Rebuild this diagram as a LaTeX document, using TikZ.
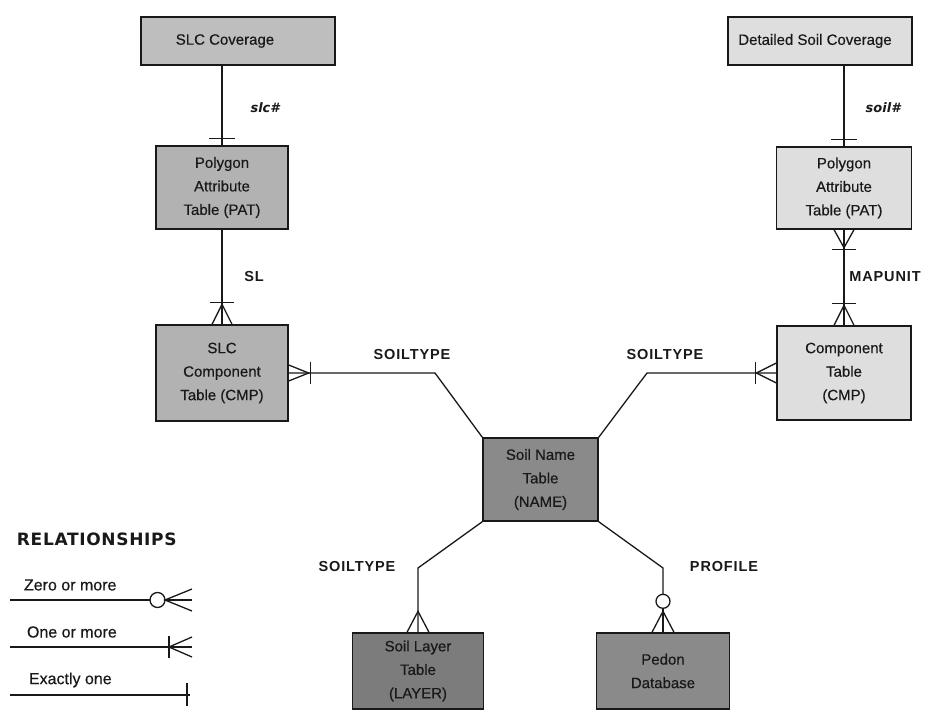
\documentclass[tikz,border=0pt]{standalone}
\usepackage{fontspec}
\setmainfont{Liberation Sans}
\newfontfamily\dvsans{DejaVu Sans}
\usetikzlibrary{calc}
\definecolor{gA}{RGB}{190,190,190}
\definecolor{gB}{RGB}{178,178,178}
\definecolor{gL}{RGB}{222,222,222}
\definecolor{gN}{RGB}{138,138,138}
\definecolor{gD}{RGB}{124,124,124}
\definecolor{ink}{RGB}{25,25,25}
\begin{document}
\begin{tikzpicture}[x=1pt,y=-1pt,line width=1.3pt,draw=ink,
  box/.style={draw=ink,line width=1.4pt,align=center,inner sep=0pt,
    font=\fontsize{15}{23.5}\selectfont\addfontfeature{FakeBold=0.4},text=ink},
  rel/.style={font=\fontsize{14.5}{16}\selectfont\bfseries\addfontfeature{LetterSpace=6},text=ink},
  key/.style={font=\dvsans\fontsize{13}{15}\selectfont\bfseries\itshape,text=ink},
  leg/.style={font=\fontsize{16}{18}\selectfont\addfontfeature{FakeBold=0.4},text=ink,anchor=west}]
\useasboundingbox (0,0) rectangle (950,711);
% boxes
\node[box,fill=gA,minimum width=194pt,minimum height=48pt] (slccov) at (238,41) {SLC Coverage\hspace*{26pt}};
\node[box,fill=gL,minimum width=184pt,minimum height=48pt] (detcov) at (820,41) {Detailed Soil Coverage\hspace*{10pt}};
\node[box,fill=gB,minimum width=132pt,minimum height=83pt] (pat1) at (222,187.5) {Polygon\\Attribute\\Table (PAT)};
\node[box,fill=gL,minimum width=135pt,minimum height=82pt] (pat2) at (844,188) {Polygon\\Attribute\\Table (PAT)};
\node[box,fill=gB,minimum width=132pt,minimum height=96pt] (cmp1) at (222,373) {SLC\\Component\\Table (CMP)};
\node[box,fill=gL,minimum width=134pt,minimum height=94pt] (cmp2) at (844,373) {Component\\Table\\(CMP)};
\node[box,fill=gN,minimum width=115pt,minimum height=83pt] (name) at (540.5,479.5) {Soil Name\\Table\\(NAME)};
\node[box,fill=gD,minimum width=131pt,minimum height=76pt] (layer) at (418,671) {Soil Layer\\Table\\(LAYER)};
\node[box,fill=gN,minimum width=133pt,minimum height=76pt] (pedon) at (663,671) {Pedon\\Database};
% labels
\node[key] (l1) at (265,108) {slc\#};
\node[key] (l2) at (883,108) {soil\#};
\node[rel] (l3) at (254,277) {SL};
\node[rel] (l4) at (885,277) {MAPUNIT};
\node[rel] (l5) at (412,355) {SOILTYPE};
\node[rel] (l6) at (665,355) {SOILTYPE};
\node[rel] (l7) at (357,567) {SOILTYPE};
\node[rel] (l8) at (724,567) {PROFILE};
% SLC coverage -> PAT
\draw (pat1.north |- slccov.south) -- (pat1.north);
\draw ($(pat1.north)+(-13,-7)$) -- ($(pat1.north)+(13,-7)$);
% PAT -> CMP (left)
\draw (pat1.south) -- (cmp1.north);
\draw ($(cmp1.north)+(-12,-22)$) -- ($(cmp1.north)+(12,-22)$);
\draw ($(cmp1.north)+(-10,0)$) -- ($(cmp1.north)+(0,-20)$) -- ($(cmp1.north)+(10,0)$);
% detailed coverage -> PAT
\draw (pat2.north |- detcov.south) -- (pat2.north);
\draw ($(pat2.north)+(-13,-7)$) -- ($(pat2.north)+(13,-7)$);
% PAT -> CMP (right)
\draw (pat2.south) -- (cmp2.north);
\draw ($(pat2.south)+(-10,0)$) -- ($(pat2.south)+(0,18)$) -- ($(pat2.south)+(10,0)$);
\draw ($(pat2.south)+(-12,20)$) -- ($(pat2.south)+(12,20)$);
\draw ($(cmp2.north)+(-12,-22)$) -- ($(cmp2.north)+(12,-22)$);
\draw ($(cmp2.north)+(-10,0)$) -- ($(cmp2.north)+(0,-20)$) -- ($(cmp2.north)+(10,0)$);
% CMP left -> NAME
\coordinate (k1) at (435,373);
\draw (cmp1.east) -- (k1) -- (name.north west);
\draw ($(cmp1.east)+(0,-8)$) -- ($(cmp1.east)+(20,0)$) -- ($(cmp1.east)+(0,8)$);
\draw ($(cmp1.east)+(22,-11)$) -- ($(cmp1.east)+(22,11)$);
% NAME -> CMP right
\coordinate (k2) at (647,373);
\draw (name.north east) -- (k2) -- (cmp2.west);
\draw ($(cmp2.west)+(0,-10)$) -- ($(cmp2.west)+(-20,0)$) -- ($(cmp2.west)+(0,10)$);
\draw ($(cmp2.west)+(-21,-11)$) -- ($(cmp2.west)+(-21,11)$);
% NAME -> LAYER
\coordinate (k3) at (418,568);
\draw (name.south west) -- (k3) -- (layer.north);
\draw ($(layer.north)+(-11,0)$) -- ($(layer.north)+(0,-21)$) -- ($(layer.north)+(11,0)$);
% NAME -> PEDON
\coordinate (k4) at (663,568);
\draw (name.south east) -- (k4) -- ($(pedon.north)+(0,-38)$);
\draw ($(pedon.north)+(0,-31)$) circle[radius=7pt];
\draw ($(pedon.north)+(0,-24)$) -- (pedon.north);
\draw ($(pedon.north)+(-11,0)$) -- ($(pedon.north)+(0,-21)$) -- ($(pedon.north)+(11,0)$);
% legend
\node[font=\dvsans\fontsize{17}{20}\selectfont\bfseries\addfontfeature{LetterSpace=4},text=ink,anchor=west] (rt) at (13,539) {RELATIONSHIPS};
\node[leg] (t1) at (20,585) {Zero or more};
\node[leg] (t2) at (23,632) {One or more};
\node[leg] (t3) at (25,680) {Exactly one};
\coordinate (z0) at (10,600);
\coordinate (z1) at (150,600);
\draw (z0) -- (z1);
\draw (157.5,600) circle[radius=7.5pt];
\draw (192,589) -- (165,600) -- (192,611);
\draw (165,600) -- (192,600);
\coordinate (o0) at (10,647);
\coordinate (o1) at (192,647);
\draw (o0) -- (o1);
\draw (169,636) -- (169,658);
\draw (192,637) -- (169,647) -- (192,657);
\coordinate (e0) at (10,695);
\coordinate (e1) at (190,695);
\draw (e0) -- (e1);
\draw (187,683) -- (187,706);
\end{tikzpicture}
\end{document}
